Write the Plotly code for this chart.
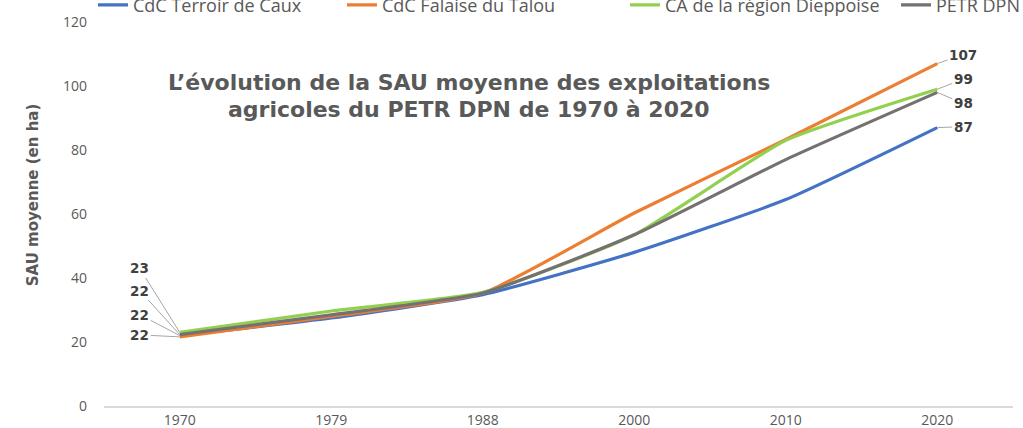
import plotly.graph_objects as go

years = ["1970", "1979", "1988", "2000", "2010", "2020"]
series_names = ["CdC Terroir de Caux", "CdC Falaise du Talou", "CA de la région Dieppoise", "PETR DPN"]
terroir = [22.0, 27.5, 34.8, 48.0, 64.5, 87.0]
falaise = [21.6, 28.0, 35.3, 60.3, 83.3, 107.0]
dieppoise = [23.0, 29.7, 35.5, 53.5, 83.0, 99.0]
petr = [22.3, 28.5, 35.3, 53.5, 77.0, 98.0]
colors = ["#4472C4", "#ED7D31", "#92D050", "#767171"]

title_lines = ["L’évolution de la SAU moyenne des exploitations", "agricoles du PETR DPN de 1970 à 2020"]
y_title = "SAU moyenne (en ha)"

all_series = [terroir, falaise, dieppoise, petr]
legend_widths = [204, 238, 226, 87]

fig = go.Figure()
for name, vals, col, lw in zip(series_names, all_series, colors, legend_widths):
    fig.add_trace(go.Scatter(
        x=years, y=vals, name=name, mode="lines",
        line=dict(color=col, width=3.2, shape="spline", smoothing=0.5),
        legendwidth=lw,
        hoverinfo="x+y+name",
    ))

label_font = dict(family="DejaVu Sans", size=13.5, color="#404040")
# pixel offsets of data labels: series index -> (ax, ay)
end_offsets = {1: (26, -9), 2: (26, -10), 3: (26, 11), 0: (26, -1)}
start_offsets = {2: (-40, -64), 3: (-40, -44), 0: (-40, -21), 1: (-40, -2)}

last = len(years) - 1
for i, vals in enumerate(all_series):
    ax, ay = end_offsets[i]
    fig.add_annotation(x=last, y=vals[-1], text=f"<b>{round(vals[-1])}</b>",
                       showarrow=True, arrowhead=0, arrowwidth=1, arrowcolor="#a6a6a6",
                       ax=ax, ay=ay, font=label_font)
    ax, ay = start_offsets[i]
    fig.add_annotation(x=0, y=vals[0], text=f"<b>{round(vals[0])}</b>",
                       showarrow=True, arrowhead=0, arrowwidth=1, arrowcolor="#a6a6a6",
                       ax=ax, ay=ay, font=label_font)

for line_text, ypos in zip(title_lines, [0.842, 0.772]):
    fig.add_annotation(x=0.4015, y=ypos, xref="paper", yref="paper",
                       text="<b>" + line_text + "</b>", yanchor="middle", xanchor="center",
                       showarrow=False,
                       font=dict(family="DejaVu Sans", size=22, color="#595959"))

fig.add_annotation(x=-0.078, y=0.549, xref="paper", yref="paper",
                   text="<b>" + y_title + "</b>", textangle=-90, showarrow=False,
                   xanchor="center", yanchor="middle",
                   font=dict(family="DejaVu Sans", size=15, color="#595959"))

fig.update_layout(
    width=1023, height=428,
    margin=dict(l=104, r=10, t=22, b=22, autoexpand=False),
    paper_bgcolor="white", plot_bgcolor="white",
    showlegend=True,
    legend=dict(orientation="h", x=-0.0121, xanchor="left", y=1.044, yanchor="middle",
                font=dict(family="Open Sans", size=18, color="#595959"),
                itemwidth=30, bgcolor="rgba(0,0,0,0)", borderwidth=0),
    xaxis=dict(type="category", range=[-0.5, 5.5], showgrid=False, showline=True,
               linecolor="#d9d9d9", linewidth=1.5,
               ticks="", tickfont=dict(family="Open Sans", size=14, color="#595959"),
               zeroline=False),
    yaxis=dict(range=[0, 120], dtick=20, showgrid=False, zeroline=False, showline=False,
               tickfont=dict(family="Open Sans", size=14, color="#595959"),
               ticklabelstandoff=16),
)

fig.write_html("out.html", config={"displayModeBar": False},
               post_script="document.body.style.margin='0';")
